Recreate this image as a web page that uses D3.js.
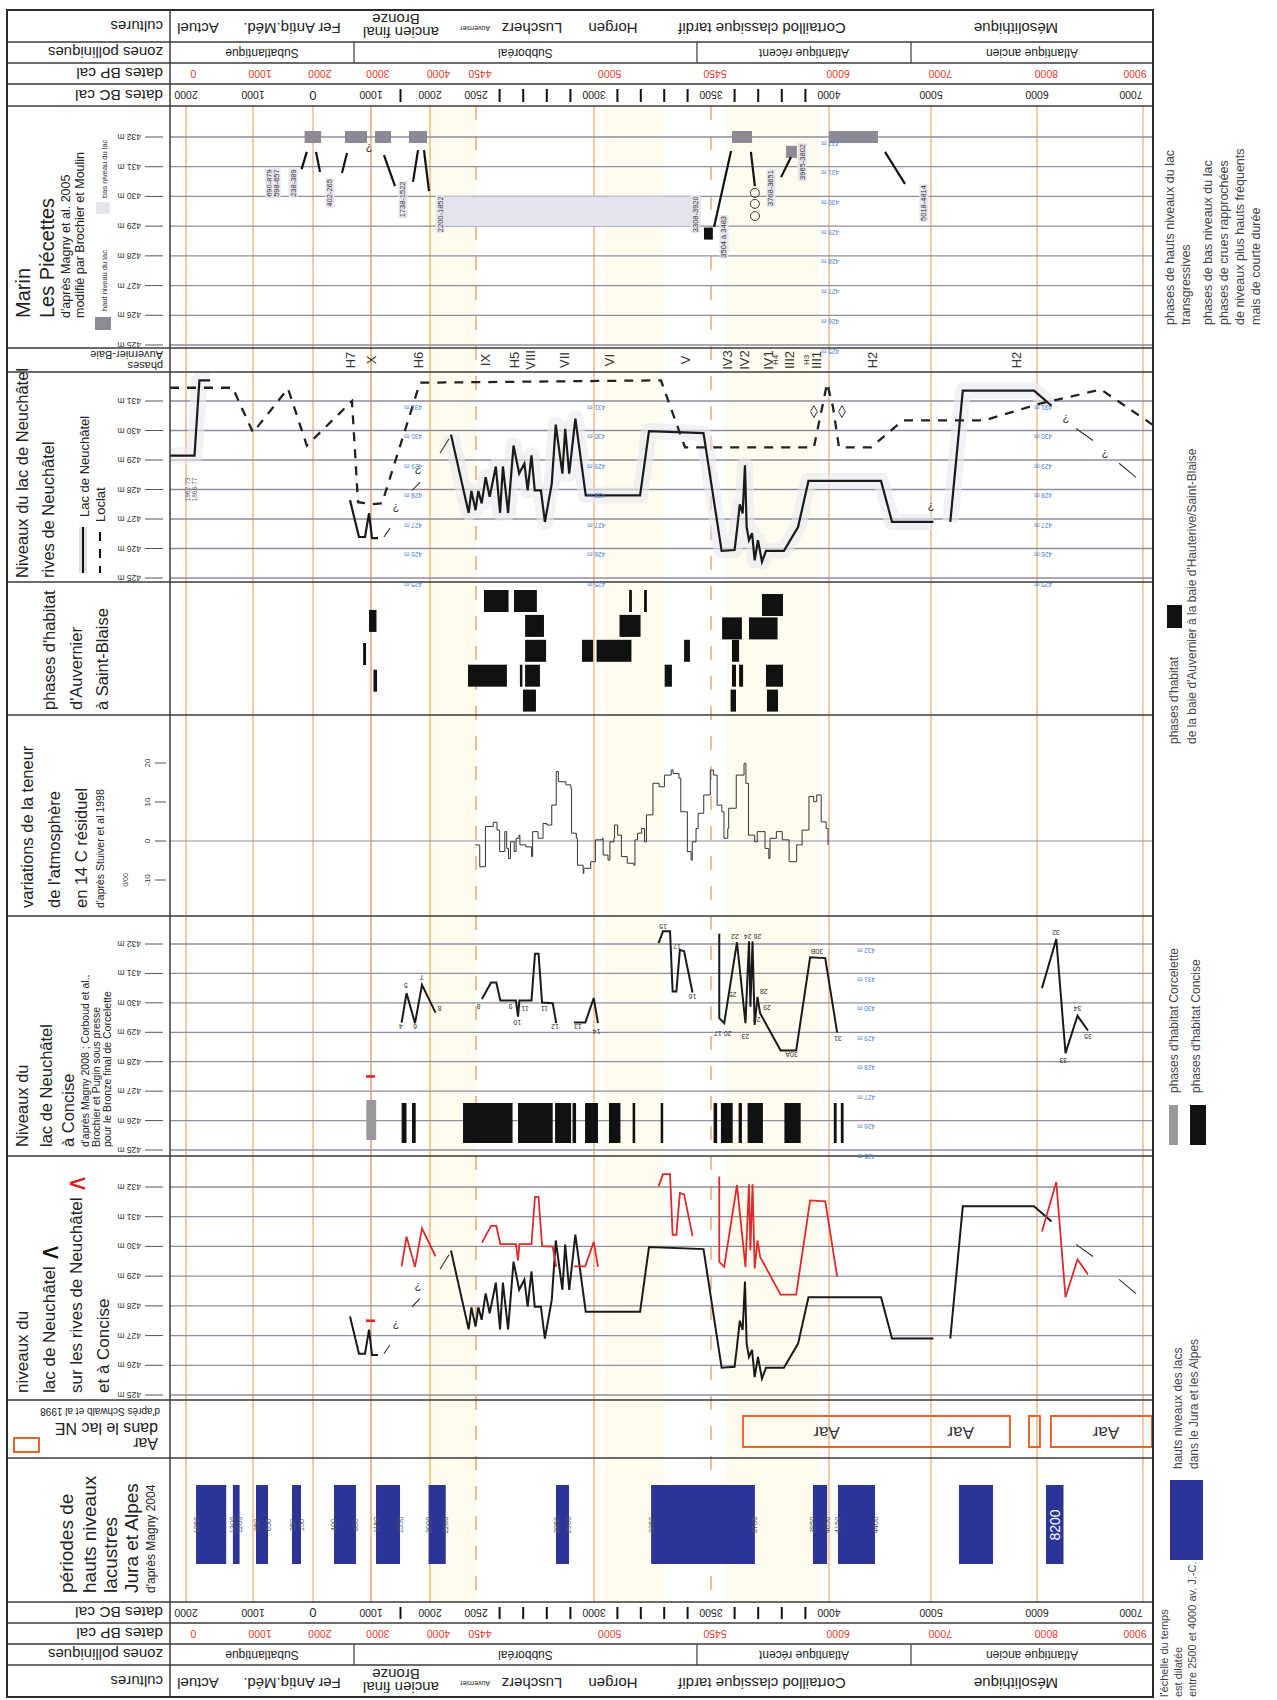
<!DOCTYPE html>
<html>
<head>
<meta charset="utf-8">
<script src="https://cdn.jsdelivr.net/npm/d3@7"></script>
<style>
body { margin: 0; background: #fff; }
svg { display: block; }
text { font-family: "Liberation Sans", Arial, sans-serif; }
</style>
</head>
<body>
<svg id="chart"></svg>
<script>
// ---- time axis (years BC cal, AD as negative) ----
const yearKnots = [-2240, -2000, -1000, 0, 1000, 2000, 2500, 3000, 3500, 4000, 5000, 6000, 7000, 7100]
const bcTicks = [-2000, -1000, 0, 1000, 2000, 2500, 3000, 3500, 4000, 5000, 6000, 7000]
const bcMinor = [1500, 2600, 2700, 2800, 2900, 3100, 3200, 3300, 3400, 3600, 3700, 3800, 3900]
const bpTicks = [0, 1000, 2000, 3000, 4000, 4450, 5000, 5450, 6000, 7000, 8000, 9000]
const solidYears = [-2000, -1000, 0, 1000, 2000, 3000, 4000, 5000, 6000, 7000]
const dashedYears = [2500, 3500]
const bandYears = [[1950, 2500], [3040, 3300], [3560, 3960]]

// ---- headers ----
const cultureNames = ["Actuel", "Fer Antiq.Méd.", "ancien final", "Bronze", "Auvernier", "Luscherz", "Horgen", "Cortaillod classique tardif", "Mésolithique"]
const cultureYears = [-1821, -350, 1508, 1424, 2489, 2737, 3081, 3716, 5802]
const cultureLine = [1, 1, 1, 0, 1, 1, 1, 1, 1]
const zoneNames = ["Subatlantique", "Subboréal", "Atlantique récent", "Atlantique ancien"]
const zoneBounds = [-2240, 707, 3440, 4804, 7100]

// ---- Marin Les Piécettes ----
const marinHigh = [[-140, 140, 432], [552, 931, 432], [1068, 1339, 432], [1644, 1949, 432], [3589, 3674, 432], [3818, 3864, 431.5], [4000, 4480, 432]]
const marinLow = [2098, 3457, 429, 430]
const marinBlack = [3470, 3508, 428.75]
const marinStrokes = [
  [[-103, 431.5], [-190, 430.92]], [[52, 431.5], [121, 430.82]], [[586, 431.46], [500, 430.79]],
  [[1220, 431.39], [1407, 430.35]], [[1797, 431.56], [1712, 430.49]], [[1898, 431.56], [1983, 430.18]],
  [[3585, 431.53], [3513, 428.97]], [[3669, 431.5], [3686, 430.35]], [[3797, 430.65], [3839, 431.33]],
  [[4549, 431.5], [4745, 430.42]]
]
const marinCircles = [[3686, 430.12], [3686, 429.75], [3686, 429.34]]
const marinLabels = [
  [-720, 430.45, "690-879"], [-616, 430.45, "598-657"], [-333, 430.45, "238-389"], [293, 430.12, "402-265"],
  [1542, 429.9, "1738-1522"], [2109, 429.4, "2200-1852"], [3432, 429.4, "3308-3920"], [3555, 428.64, "3504 à 3483"],
  [3754, 430.28, "3768-3651"], [3886, 431.16, "3965-3802"], [4931, 429.78, "5018-4814"]
]

// ---- phases Auvernier-Baie ----
const phaseNames = ["H7", "X", "H6", "IX", "H5", "VIII", "VII", "VI", "V", "IV3", "IV2", "IV1", "H4", "III2", "H3", "III1", "H2", "H2"]
const phaseYears = [638, 1000, 1797, 2542, 2665, 2733, 2877, 3068, 3389, 3572, 3640, 3742, 3775, 3831, 3903, 3949, 4431, 5802]

// ---- Auvernier: Lac de Neuchâtel (solid) and Loclat (dashed) ----
const lakeA = [[-2240, 429.15], [-1873, 429.15], [-1800, 431.7], [-1640, 431.7]]
const lakeB = [[638, 427.64], [793, 426.39], [897, 426.39], [966, 427.2], [1017, 426.35], [1119, 426.35]]
const lakeC = [[2228, 429.86], [2420, 427.21], [2450, 427.95], [2495, 427.3], [2510, 427.95], [2524, 427.53], [2541, 428.42],
  [2558, 427.75], [2584, 428.78], [2602, 427.21], [2614, 428.78], [2636, 427.21], [2659, 429.49], [2683, 428.54], [2705, 428.88],
  [2719, 427.97], [2735, 429.16], [2749, 427.97], [2775, 427.97], [2792, 426.9], [2821, 428.2], [2838, 430.2], [2866, 428.54],
  [2878, 430.06], [2895, 428.54], [2921, 430.4], [2965, 427.8], [3197, 427.8], [3235, 429.98], [3468, 429.91], [3545, 425.92],
  [3600, 425.95], [3610, 426.62], [3622, 427.5], [3634, 427.19], [3644, 428.82], [3651, 426.73], [3661, 426.28], [3674, 426.52],
  [3685, 425.6], [3699, 426.28], [3716, 425.55], [3733, 425.92], [3809, 425.92], [3869, 426.73], [3913, 428.29], [4510, 428.29],
  [4618, 426.9], [5023, 426.9]]
const lakeD = [[5182, 426.9], [5300, 431.35], [5972, 431.35], [6137, 430.84]]
const loclat = [[-2240, 431.45], [-1299, 431.45], [-1254, 431.2], [-1000, 429.93], [-417, 431.42], [-103, 429.49], [672, 431.0],
  [776, 427.57], [1017, 427.5], [1186, 427.53], [1830, 431.62], [3286, 431.7], [3389, 429.43], [3936, 429.43], [3992, 431.6],
  [4039, 430.8], [4098, 429.43], [4412, 429.43], [4725, 430.34], [5500, 430.34], [6028, 430.91], [6604, 431.39], [7094, 430.2]]
const thinLinks = [[[1220, 426.39], [1322, 426.69]], [[1695, 427.97], [1830, 428.24]], [[2109, 429.23], [2206, 429.72]],
  [[6368, 430.07], [6528, 429.66]], [[6774, 428.89], [6934, 428.41]]]
const queries = [[1424, 427.36], [1797, 428.65], [5000, 427.4], [6274, 430.4], [6642, 429.22]]
const diamonds = [[3936, 430.64], [4127, 430.64]]

// ---- habitat phases Auvernier - Saint-Blaise [start, end, lane] ----
const habitat = [[966, 1093, 1.8], [864, 915, 3.13], [1042, 1102, 4.2],
  [2534, 2638, 1], [2661, 2758, 1], [2708, 2788, 2], [2708, 2797, 3], [2413, 2631, 4], [2686, 2695, 4], [2708, 2771, 4], [2699, 2754, 5],
  [3150, 3162, 1], [3214, 3226, 1], [3109, 3199, 2], [2949, 2996, 3], [3011, 3160, 3], [3385, 3410, 3], [3302, 3333, 4],
  [3716, 3805, 1.16], [3547, 3631, 2.1], [3661, 3782, 2.1], [3589, 3619, 3], [3589, 3606, 4], [3619, 3636, 4], [3733, 3805, 4],
  [3583, 3606, 5], [3737, 3784, 5]]

// ---- residual 14C (Stuiver et al 1998), step values ----
const c14Years = [2492, 2516, 2540, 2573, 2589, 2600, 2622, 2630, 2638, 2646, 2662, 2670, 2682, 2686, 2711, 2735, 2740, 2763, 2784,
  2800, 2821, 2840, 2849, 2881, 2902, 2905, 2925, 2930, 2954, 2957, 2986, 3006, 3036, 3039, 3060, 3068, 3085, 3088, 3101, 3117,
  3142, 3170, 3175, 3186, 3204, 3216, 3224, 3252, 3278, 3301, 3330, 3338, 3363, 3371, 3399, 3415, 3420, 3436, 3445, 3469, 3497,
  3510, 3526, 3546, 3555, 3571, 3575, 3607, 3640, 3648, 3659, 3685, 3696, 3729, 3745, 3750, 3777, 3802, 3831, 3863, 3886, 3915,
  3935, 3948, 3967, 3988, 3996]
const c14Values = [-1.0, -6.6, 3.7, 4.8, 2.8, -2.7, 2.4, -1.9, -4.5, -0.2, -2.7, 0.7, 1.5, -1.0, -1.5, -4.0, 2.4, 0.7, 4.5,
  4.1, 9.2, 17.8, 15.2, 14.4, 13.5, 2.0, 0.7, -6.2, -8.3, -7.0, -5.3, 0.3, 0.7, -3.6, -4.9, -0.2, 0.7, 4.1, 1.5, -4.0,
  -5.7, -6.2, 0.3, 2.0, 3.2, -0.2, 6.7, 14.8, 13.9, 16.9, 18.2, 17.3, 16.1, 7.5, -2.7, -4.9, -0.2, 3.2, 7.1, 11.8, 18.2,
  16.9, 9.2, 7.5, 0.7, 3.2, 8.4, 16.9, 19.9, 14.8, 1.5, -0.2, 2.4, -1.9, -4.5, 0.7, 2.4, 0.3, -5.3, -1.0, 2.8, 11.4,
  10.1, 11.8, 4.9, 3.2, -1.0]
const c14Ticks = [-10, 0, 10, 20]

// ---- Concise lake levels ----
const conc1 = [[1519, 429.33], [1602, 430.33], [1746, 429.31], [1864, 430.61], [2060, 429.67]]
const conc2 = [[2525, 430.13], [2564, 430.69], [2586, 430.69], [2603, 430.08], [2669, 430.08], [2678, 429.53], [2684, 430.08],
  [2735, 430.08], [2750, 431.67], [2765, 431.67], [2780, 430.01], [2825, 429.99], [2840, 429.31]]
const conc3 = [[2915, 429.33], [2963, 429.33], [2999, 430.16], [3017, 429.31]]
const conc4 = [[3276, 432.03], [3295, 432.43], [3325, 432.43], [3336, 430.39], [3352, 430.39], [3367, 431.8], [3385, 431.75], [3421, 430.35]]
const conc5 = [[3535, 432.35], [3535, 429.48], [3556, 429.31], [3610, 432.06], [3646, 429.31], [3661, 432.09], [3667, 429.87],
  [3676, 432.09], [3685, 429.25], [3697, 430.2], [3708, 429.65], [3795, 428.38], [3861, 428.38], [3920, 431.55], [3984, 431.52], [4080, 428.99]]
const conc6 = [[6047, 430.5], [6182, 432.17], [6269, 428.29], [6382, 429.56], [6481, 429.06]]
const concLabels = [[1503, 429.18, "4"], [1590, 430.58, "5"], [1746, 429.18, "6"], [1859, 430.85, "7"], [2103, 429.81, "8"],
  [2511, 429.87, "8"], [2646, 429.87, "9"], [2675, 429.33, "10"], [2708, 429.81, "11"], [2790, 429.81, "11"], [2835, 429.18, "12"],
  [2932, 429.2, "13"], [3011, 429.03, "14"], [3295, 432.6, "15"], [3355, 431.9, "17"], [3421, 430.2, "16"],
  [3550, 428.95, "20 17"], [3601, 432.26, "22"], [3676, 432.26, "26 24"], [3592, 430.27, "25"], [3646, 428.86, "23"],
  [3693, 429.45, "27"], [3723, 430.38, "28"], [3737, 429.83, "29"], [3841, 428.23, "30A"], [3949, 431.75, "30B"], [4088, 428.8, "31"],
  [6179, 432.39, "32"], [6249, 428.04, "33"], [6382, 429.8, "34"], [6481, 428.86, "35"]]
const concRed = [914, 1069, 427.5]
const corcelette = [[919, 1088]]
const conciseHab = [[1519, 1602], [1695, 1758], [2359, 2655], [2678, 2825], [2835, 2903], [2909, 2924], [2962, 3017], [3064, 3113],
  [3165, 3176], [3285, 3295], [3511, 3526], [3542, 3592], [3617, 3631], [3655, 3720], [3811, 3880], [4047, 4075], [4116, 4143]]

// ---- Aar in lake NE ----
const aarPeriods = [[3636, 5745], [5925, 6028], [6132, 7100]]
const aarLabelYears = [3990, 5280, 6650]

// ---- high lake-level periods Jura & Alps (Magny 2004) ----
const highPeriods = [[-1850, -1400], [-1300, -1200], [-950, -750], [-350, -200], [362, 741], [1085, 1492], [1976, 2171],
  [2839, 2894], [3244, 3686], [3932, 3992], [4088, 4451], [5264, 5585], [6085, 6250]]
const highLabels = [[-1850, "1850"], [-1300, "1300"], [-1200, "1200"], [-950, "850"], [-750, "650"], [-350, "250"], [-200, "150"],
  [362, "400"], [741, "800"], [1085, "1150"], [1492, "1550"], [1976, "2000"], [2171, "2200"], [2839, "2850"], [2894, "2900"],
  [3244, "3250"], [3686, "3700"], [3932, "3950"], [3992, "4050"], [4088, "4150"], [4451, "4400"]]

// ================= drawing =================
const W = 1277, H = 1700, L = 170, R = 1153, X0 = 7
const svg = d3.select("#chart").attr("width", W).attr("height", H)
svg.append("rect").attr("width", W).attr("height", H).attr("fill", "#fff")

const x = d3.scaleLinear().domain(yearKnots)
  .range([170, 186, 253, 313, 371, 430, 476, 594, 711, 829, 931, 1037, 1143, 1153])
const yMarin = d3.scaleLinear().domain([425, 432]).range([345, 137])
const yAuv = d3.scaleLinear().domain([425, 432]).range([578, 371.5])
const yHab = d3.scaleLinear().domain([1, 5]).range([601, 700.6])
const y14 = d3.scaleLinear().domain([-10, 20]).range([880, 763])
const yCon = d3.scaleLinear().domain([425, 432]).range([1150, 944])
const yComb = d3.scaleLinear().domain([425, 432]).range([1395, 1187])

const bg = svg.append("g"), grid = svg.append("g"), marks = svg.append("g"), frame = svg.append("g"), labels = svg.append("g")

// rotated text helpers
const vtext = (px, py, s, size, fill = "#222", g = labels) => g.append("text")
  .attr("transform", `translate(${px},${py}) rotate(-90)`)
  .attr("dominant-baseline", "central").attr("font-size", size).attr("fill", fill).text(s)
const utext = (px, py, s, size, anchor = "middle", fill = "#222", g = labels) => g.append("text")
  .attr("transform", `translate(${px},${py}) rotate(180)`)
  .attr("text-anchor", anchor).attr("dominant-baseline", "central")
  .attr("font-size", size).attr("fill", fill).text(s)

// background bands and time lines
bg.selectAll(null).data(bandYears).join("rect")
  .attr("x", d => x(d[0])).attr("width", d => x(d[1]) - x(d[0]))
  .attr("y", 106).attr("height", 1496).attr("fill", "#fffcef")
bg.selectAll(null).data(solidYears).join("line")
  .attr("x1", d => x(d)).attr("x2", d => x(d)).attr("y1", 106).attr("y2", 1602)
  .attr("stroke", d => d === 1000 ? "#e98a45" : "#f0a865").attr("stroke-width", 1.2)
bg.selectAll(null).data(dashedYears).join("line")
  .attr("x1", d => x(d)).attr("x2", d => x(d)).attr("y1", 106).attr("y2", 1602)
  .attr("stroke", "#ee9a55").attr("stroke-width", 1.3).attr("stroke-dasharray", "14,16")

// level grids
function levelGrid(yS, lv, blueYears) {
  grid.selectAll(null).data(lv).join("line")
    .attr("x1", L).attr("x2", R).attr("y1", d => yS(d)).attr("y2", d => yS(d))
    .attr("stroke", "#8e8e9c").attr("stroke-width", 1.3)
  grid.selectAll(null).data(lv).join("line")
    .attr("x1", 145).attr("x2", 163).attr("y1", d => yS(d)).attr("y2", d => yS(d))
    .attr("stroke", "#555").attr("stroke-width", 1)
  lv.forEach(d => utext(141, yS(d), d + " m", 8.5, "start", "#333"))
  blueYears.forEach(yr => lv.forEach(d => utext(x(yr), yS(d) + 6, d + " m", 6.5, "middle", "#4a7fd0")))
}
const lv8 = [425, 426, 427, 428, 429, 430, 431, 432]
levelGrid(yMarin, lv8, [4010])
levelGrid(yAuv, lv8.slice(0, 7), [1712, 3009, 6057])
levelGrid(yCon, lv8, [4363])
levelGrid(yComb, lv8, [])
grid.append("line").attr("x1", L).attr("x2", R).attr("y1", y14(0)).attr("y2", y14(0))
  .attr("stroke", "#8e8e9c").attr("stroke-width", 1.2)

// ---- Marin marks ----
marks.append("rect").attr("x", x(marinLow[0])).attr("width", x(marinLow[1]) - x(marinLow[0]))
  .attr("y", yMarin(marinLow[3])).attr("height", yMarin(marinLow[2]) - yMarin(marinLow[3])).attr("fill", "#e5e3eb")
marks.selectAll(null).data(marinHigh).join("rect")
  .attr("x", d => x(d[0])).attr("width", d => x(d[1]) - x(d[0]))
  .attr("y", d => yMarin(d[2]) - 6).attr("height", 12).attr("fill", "#8d8a93")
marks.append("rect").attr("x", x(marinBlack[0])).attr("width", x(marinBlack[1]) - x(marinBlack[0]))
  .attr("y", yMarin(marinBlack[2]) - 6).attr("height", 12).attr("fill", "#111")
const lineM = d3.line().x(d => x(d[0])).y(d => yMarin(d[1]))
marks.selectAll(null).data(marinStrokes).join("path").attr("d", lineM)
  .attr("stroke", "#111").attr("stroke-width", 2.2).attr("fill", "none")
marks.selectAll(null).data(marinCircles).join("circle")
  .attr("cx", d => x(d[0])).attr("cy", d => yMarin(d[1])).attr("r", 4.5)
  .attr("fill", "none").attr("stroke", "#333").attr("stroke-width", 1)
utext(x(966), yMarin(431.63), "?", 11, "middle", "#333", marks)
marinLabels.forEach(([yr, lv, s]) => {
  const g = marks.append("g").attr("transform", `translate(${x(yr)},${yMarin(lv)}) rotate(-90)`)
  const r = g.append("rect").attr("fill", "#e7e5ee")
  const t = g.append("text").attr("text-anchor", "middle").attr("dominant-baseline", "central")
    .attr("font-size", 7.5).attr("fill", "#333").text(s)
  const b = t.node().getBBox()
  r.attr("x", b.x - 1).attr("y", b.y).attr("width", b.width + 2).attr("height", b.height)
})

// ---- phases row ----
phaseNames.forEach((s, i) => {
  const small = s === "H4" || s === "H3"
  vtext(x(phaseYears[i]), 360, s, small ? 8 : 13, "#333").attr("text-anchor", "middle")
})

// ---- Auvernier lake levels ----
const lineA = d3.line().x(d => x(d[0])).y(d => yAuv(d[1]))
marks.selectAll(null).data([lakeA, lakeC, lakeD]).join("path").attr("d", lineA)
  .attr("stroke", "#e9e8ef").attr("stroke-width", 16).attr("stroke-linejoin", "round")
  .attr("fill", "none").attr("opacity", 0.6)
marks.selectAll(null).data([lakeA, lakeB, lakeC, lakeD]).join("path").attr("d", lineA)
  .attr("stroke", "#1a1a1a").attr("stroke-width", 2.2).attr("fill", "none")
marks.append("path").attr("d", lineA(loclat))
  .attr("stroke", "#222").attr("stroke-width", 2.3).attr("stroke-dasharray", "9,8").attr("fill", "none")
marks.selectAll(null).data(thinLinks).join("path").attr("d", lineA)
  .attr("stroke", "#333").attr("stroke-width", 1.1).attr("fill", "none")
queries.forEach(d => utext(x(d[0]), yAuv(d[1]), "?", 11, "middle", "#333", marks))
marks.selectAll(null).data(diamonds).join("path")
  .attr("d", d3.symbol(d3.symbolDiamond, 40))
  .attr("transform", d => `translate(${x(d[0])},${yAuv(d[1])})`)
  .attr("fill", "#fff").attr("stroke", "#333").attr("stroke-width", 1)
vtext(x(-1985), yAuv(428), "1962-73", 6.5, "#667").attr("text-anchor", "middle")
vtext(x(-1870), yAuv(428), "1868-77", 6.5, "#667").attr("text-anchor", "middle")

// ---- habitat bars ----
marks.selectAll(null).data(habitat).join("rect")
  .attr("x", d => x(d[0])).attr("width", d => Math.max(2.5, x(d[1]) - x(d[0])))
  .attr("y", d => yHab(d[2]) - 11).attr("height", 22).attr("fill", "#111")

// ---- 14C curve ----
marks.append("path")
  .attr("d", d3.line().curve(d3.curveStepAfter).x(d => x(d[0])).y(d => y14(d[1]))(c14Years.map((d, i) => [d, c14Values[i]])))
  .attr("stroke", "#333").attr("stroke-width", 1).attr("fill", "none")

// ---- Concise ----
const lineC = d3.line().x(d => x(d[0])).y(d => yCon(d[1]))
const concSeries = [conc1, conc2, conc3, conc4, conc5, conc6]
marks.selectAll(null).data(concSeries).join("path").attr("d", lineC)
  .attr("stroke", "#1a1a1a").attr("stroke-width", 2).attr("fill", "none")
concLabels.forEach(d => utext(x(d[0]), yCon(d[1]), d[2], 7, "middle", "#333", marks))
marks.append("line").attr("x1", x(concRed[0])).attr("x2", x(concRed[1]))
  .attr("y1", yCon(concRed[2])).attr("y2", yCon(concRed[2])).attr("stroke", "#e02020").attr("stroke-width", 2.5)
marks.selectAll(null).data(corcelette).join("rect")
  .attr("x", d => x(d[0])).attr("width", d => x(d[1]) - x(d[0]))
  .attr("y", 1100).attr("height", 40).attr("fill", "#9a979e")
marks.selectAll(null).data(conciseHab).join("rect")
  .attr("x", d => x(d[0])).attr("width", d => Math.max(2.5, x(d[1]) - x(d[0])))
  .attr("y", 1103).attr("height", 40).attr("fill", "#111")

// ---- combined panel ----
const lineK = d3.line().x(d => x(d[0])).y(d => yComb(d[1]))
marks.selectAll(null).data([lakeB, lakeC, lakeD]).join("path").attr("d", lineK)
  .attr("stroke", "#1a1a1a").attr("stroke-width", 2).attr("fill", "none")
marks.selectAll(null).data(thinLinks).join("path").attr("d", lineK)
  .attr("stroke", "#333").attr("stroke-width", 1.1).attr("fill", "none")
queries.slice(0, 2).forEach(d => utext(x(d[0]), yComb(d[1]), "?", 11, "middle", "#333", marks))
marks.selectAll(null).data(concSeries).join("path").attr("d", lineK)
  .attr("stroke", "#e02a2a").attr("stroke-width", 1.8).attr("fill", "none")
marks.append("line").attr("x1", x(concRed[0])).attr("x2", x(concRed[1]))
  .attr("y1", yComb(concRed[2])).attr("y2", yComb(concRed[2])).attr("stroke", "#e02020").attr("stroke-width", 2.5)

// ---- Aar ----
marks.selectAll(null).data(aarPeriods).join("rect")
  .attr("x", d => x(d[0])).attr("width", d => Math.min(x(d[1]), R - 1) - x(d[0]))
  .attr("y", 1416).attr("height", 31).attr("fill", "none").attr("stroke", "#e8642c").attr("stroke-width", 2)
aarLabelYears.forEach(yr => utext(x(yr), 1432, "Aar", 17, "middle", "#333", marks))

// ---- high lake-level periods ----
marks.selectAll(null).data(highPeriods).join("rect")
  .attr("x", d => x(d[0])).attr("width", d => x(d[1]) - x(d[0]))
  .attr("y", 1485).attr("height", 79).attr("fill", "#2b3597")
highLabels.forEach(d => vtext(x(d[0]), 1525, d[1], 7.5, "#555", marks).attr("text-anchor", "middle"))
vtext(x(6167), 1525, "8200", 14, "#fff", marks).attr("text-anchor", "middle")

// ---- frame ----
const hLines = [42, 63, 84, 106, 348, 372, 582, 715, 916, 1156, 1400, 1458, 1602, 1623, 1644, 1665]
frame.selectAll(null).data(hLines).join("line")
  .attr("x1", X0).attr("x2", R).attr("y1", d => d).attr("y2", d => d)
  .attr("stroke", "#3a3a3a").attr("stroke-width", 1.5)
frame.append("rect").attr("x", X0).attr("y", 10).attr("width", R - X0).attr("height", 1687)
  .attr("fill", "none").attr("stroke", "#2a2a2a").attr("stroke-width", 2)
frame.append("line").attr("x1", L).attr("x2", L).attr("y1", 10).attr("y2", 1697)
  .attr("stroke", "#3a3a3a").attr("stroke-width", 1.5)

// ---- header blocks (top and bottom, upside-down text) ----
function headerBlock(rows) {
  const [c0, c1] = rows.cult, [z0, z1] = rows.zone, [p0, p1] = rows.bp, [b0, b1] = rows.bc
  utext(163, (c0 + c1) / 2, "cultures", 15, "start")
  utext(163, (z0 + z1) / 2, "zones polliniques", 15, "start")
  utext(163, (p0 + p1) / 2, "dates BP cal", 15.5, "start")
  utext(163, (b0 + b1) / 2, "dates BC cal", 15.5, "start")
  cultureNames.forEach((s, i) => {
    const yy = cultureLine[i] === 0 ? c0 + 9 : (s === "ancien final" ? c0 + 22 : (c0 + c1) / 2 + 2)
    utext(x(cultureYears[i]), yy, s, s === "Auvernier" ? 7 : 15)
  })
  zoneNames.forEach((s, i) => utext((x(zoneBounds[i]) + x(zoneBounds[i + 1])) / 2, (z0 + z1) / 2, s, 12))
  frame.selectAll(null).data(zoneBounds.slice(1, -1)).join("line")
    .attr("x1", d => x(d)).attr("x2", d => x(d)).attr("y1", z0).attr("y2", z1)
    .attr("stroke", "#3a3a3a").attr("stroke-width", 1.2)
  bpTicks.forEach(t => utext(Math.min(x(t - 1950) + 4, R - 18), (p0 + p1) / 2, String(t), 10.5, "middle", "#e23a2a"))
  bcTicks.forEach(t => utext(Math.min(x(t), R - 22), (b0 + b1) / 2, String(Math.abs(t)), t === 0 ? 13 : 10.5))
  frame.selectAll(null).data(bcMinor).join("line")
    .attr("x1", d => x(d)).attr("x2", d => x(d)).attr("y1", b0 + 5).attr("y2", b1 - 4)
    .attr("stroke", "#111").attr("stroke-width", 2)
}
headerBlock({ cult: [10, 42], zone: [42, 63], bp: [63, 84], bc: [84, 106] })
headerBlock({ cult: [1665, 1697], zone: [1644, 1665], bp: [1623, 1644], bc: [1602, 1623] })

// ---- left column titles ----
vtext(23, 318, "Marin", 20)
vtext(47, 318, "Les Piécettes", 20)
vtext(66, 318, "d'après Magny et al. 2005", 12.5)
vtext(80, 318, "modifié par Brochier et Moulin", 12.5)
labels.append("rect").attr("x", 95).attr("y", 317).attr("width", 16).attr("height", 13).attr("fill", "#8d8a93")
vtext(104, 311, "haut niveau du lac", 7.5, "#333")
labels.append("rect").attr("x", 96).attr("y", 202).attr("width", 14).attr("height", 12).attr("fill", "#e5e3eb")
vtext(104, 198, "bas niveau du lac", 7.5, "#333")

utext(163, 355, "Auvernier-Baie", 11, "start")
utext(163, 366, "phases", 11, "start")

vtext(22, 578, "Niveaux du lac de Neuchâtel", 16.5)
vtext(48, 578, "rives de Neuchâtel", 16.5)
labels.append("line").attr("x1", 83).attr("x2", 83).attr("y1", 527).attr("y2", 573).attr("stroke", "#ddd").attr("stroke-width", 8)
labels.append("line").attr("x1", 83).attr("x2", 83).attr("y1", 527).attr("y2", 573).attr("stroke", "#111").attr("stroke-width", 2)
vtext(84, 517, "Lac de Neuchâtel", 13)
labels.append("line").attr("x1", 100).attr("x2", 100).attr("y1", 532).attr("y2", 573).attr("stroke", "#111").attr("stroke-width", 2).attr("stroke-dasharray", "9,8")
vtext(100, 522, "Loclat", 13)

vtext(49, 710, "phases d'habitat", 16.5)
vtext(76, 710, "d'Auvernier", 16.5)
vtext(102, 710, "à Saint-Blaise", 16.5)

vtext(27, 908, "variations de la teneur", 16.5)
vtext(54, 908, "de l'atmosphère", 16.5)
vtext(81, 908, "en 14 C résiduel", 16.5)
vtext(100, 908, "d'après Stuiver et al 1998", 10.5)
vtext(125, 880, "0/00", 7, "#444").attr("text-anchor", "middle")
c14Ticks.forEach(t => {
  vtext(147, y14(t), String(t), 8, "#333").attr("text-anchor", "middle")
  labels.append("line").attr("x1", 155).attr("x2", 166).attr("y1", y14(t)).attr("y2", y14(t)).attr("stroke", "#555")
})

vtext(22, 1147, "Niveaux du", 16.5)
vtext(46, 1147, "lac de Neuchâtel", 16.5)
vtext(68, 1147, "à Concise", 16.5)
vtext(85, 1147, "d'après Magny 2008 ; Corboud et al.,", 10.5)
vtext(96, 1147, "Brochier et Pugin sous presse", 10.5)
vtext(107, 1147, "pour le Bronze final de Corcelette", 10.5)

vtext(22, 1393, "niveaux du", 17)
const t1 = vtext(49, 1393, "lac de Neuchâtel ", 17)
t1.append("tspan").attr("font-size", 26).attr("fill", "#111").text("∧")
const t2 = vtext(76, 1393, "sur les rives de Neuchâtel ", 17)
t2.append("tspan").attr("font-size", 26).attr("fill", "#e02020").text("∧")
vtext(103, 1393, "et à Concise", 17)

utext(158, 1443, "Aar", 16, "start")
utext(158, 1428, "dans le lac NE", 16, "start")
utext(160, 1411, "d'après Schwalb et al 1998", 10, "start")
labels.append("rect").attr("x", 14).attr("y", 1438).attr("width", 25).attr("height", 14)
  .attr("fill", "none").attr("stroke", "#e8642c").attr("stroke-width", 2)

vtext(66, 1593, "périodes de", 19)
vtext(89, 1593, "hauts niveaux", 19)
vtext(110, 1593, "lacustres", 19)
vtext(131, 1593, "Jura et Alpes", 19)
vtext(151, 1593, "d'après Magny 2004", 12)

// ---- right legends ----
vtext(1170, 325, "phases de hauts niveaux  du lac", 12.5, "#444")
vtext(1186, 325, "transgressives", 12.5, "#444")
vtext(1208, 325, "phases de  bas niveaux du lac", 12.5, "#444")
vtext(1224, 325, "phases de crues rapprochées", 12.5, "#444")
vtext(1240, 325, "de niveaux plus hauts fréquents", 12.5, "#444")
vtext(1256, 325, "mais de courte durée", 12.5, "#444")

labels.append("rect").attr("x", 1167).attr("y", 605).attr("width", 15).attr("height", 23).attr("fill", "#111")
vtext(1174, 744, "phases d'habitat", 12, "#444")
vtext(1192, 744, "de la baie d'Auvernier à la baie d'Hauterive/Saint-Blaise", 12, "#444")

labels.append("rect").attr("x", 1169).attr("y", 1105).attr("width", 9).attr("height", 40).attr("fill", "#9a979e")
labels.append("rect").attr("x", 1190).attr("y", 1105).attr("width", 16).attr("height", 40).attr("fill", "#111")
vtext(1174, 1093, "phases d'habitat Corcelette", 12, "#444")
vtext(1196, 1093, "phases d'habitat Concise", 12, "#444")

labels.append("rect").attr("x", 1170).attr("y", 1480).attr("width", 33).attr("height", 80).attr("fill", "#2b3597")
vtext(1178, 1469, "hauts niveaux des lacs", 12, "#444")
vtext(1194, 1469, "dans le Jura et les Alpes", 12, "#444")

vtext(1164, 1697, "l'échelle du temps", 11, "#444")
vtext(1178, 1697, "est dilatée", 11, "#444")
vtext(1192, 1697, "entre 2500 et 4000 av. J.-C.", 11, "#444")
</script>
</body>
</html>
